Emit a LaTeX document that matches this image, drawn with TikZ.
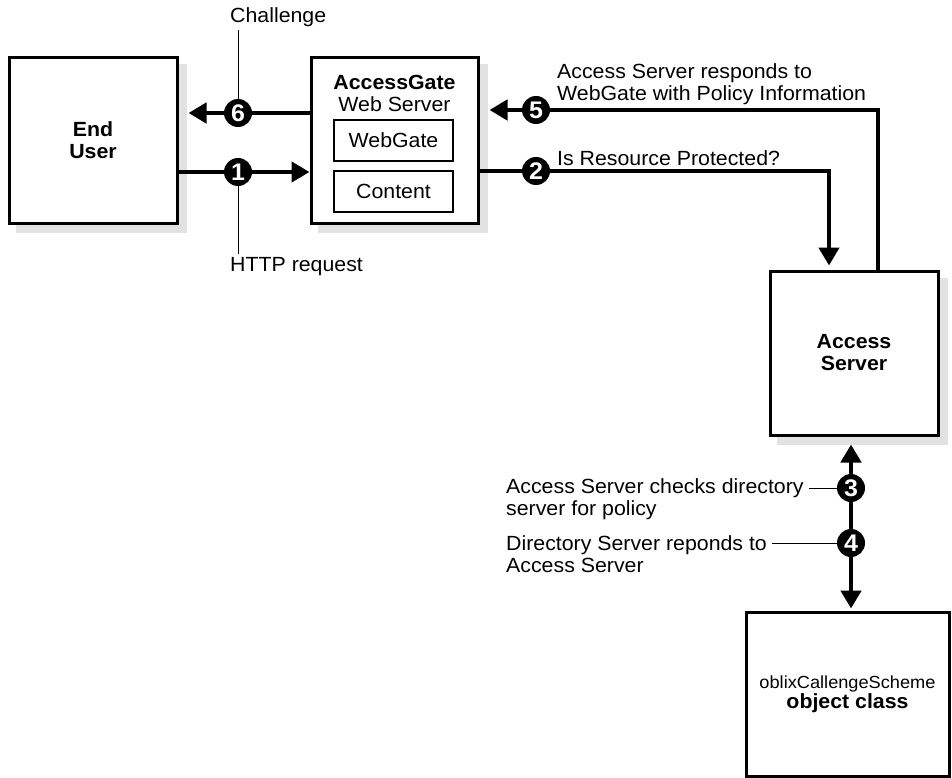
\documentclass[tikz,border=0pt]{standalone}
\usepackage{fontspec}
\setmainfont{Liberation Sans}[FakeStretch=1.04]
\usetikzlibrary{arrows.meta,calc,backgrounds}
\definecolor{shadowc}{RGB}{226,226,226}
\begin{document}
\begin{tikzpicture}[x=1pt,y=-1pt,
  bigtri/.tip={Triangle[length=18pt,width=20pt]},
  txt/.style={font=\fontsize{20.5}{22}\selectfont, inner sep=0pt, align=left},
  box/.style={draw, line width=3pt, fill=white, inner sep=0pt, align=center,
              font=\fontsize{20.5}{22}\selectfont\bfseries},
  inbox/.style={draw, line width=2.5pt, fill=white, minimum width=119pt, minimum height=41pt,
              inner sep=0pt, font=\fontsize{20.5}{22}\selectfont},
  num/.style={circle, fill=black, text=white, inner sep=0pt, minimum size=28pt,
              font=\fontsize{24}{24}\selectfont\bfseries},
  flow/.style={line width=4.5pt, -bigtri},
  leader/.style={line width=1pt},
  shade/.style={fill=shadowc},
]
\path[use as bounding box] (0,0) rectangle (952,778);

% boxes
\node[box, minimum width=168pt, minimum height=165pt] (eu) at (93,140.5) {End\\User};
\node[box, minimum width=167pt, minimum height=165pt] (ag) at (394.5,140.5) {};
\node[txt, align=center] (agt) at (394.5,93) {\textbf{AccessGate}\\Web Server};
\node[inbox] (wg) at (393.5,140.5) {WebGate};
\node[inbox] (ct) at (393.5,191.5) {Content};
\node[box, minimum width=168pt, minimum height=164pt] (as) at (854,353) {Access\\Server};
\node[box, minimum width=203pt, minimum height=164pt, font=\fontsize{17.5}{20}\selectfont] (oc) at (847.5,694)
  {oblixCallengeScheme\\{\fontsize{20.5}{20}\selectfont\bfseries object class}};

% numbered circles
\node[num] (n6) at (238,113) {6};
\node[num] (n1) at (238,172) {1};
\node[num] (n5) at (536,110) {5};
\node[num] (n2) at (536,171) {2};
\node[num] (n3) at (851,488) {3};
\node[num] (n4) at (851,543) {4};

% labels
\node[txt, anchor=west] (ch) at (230,17) {Challenge};
\node[txt, anchor=west] (hr) at (230,267) {HTTP request};
\node[txt, anchor=west] (l2) at (557,158) {Is Resource Protected?};
\node[txt, anchor=west] (l5) at (557,84) {Access Server responds to\\WebGate with Policy Information};
\node[txt, anchor=west] (l3) at (506,499) {Access Server checks directory\\server for policy};
\node[txt, anchor=west] (l4) at (506,554) {Directory Server reponds to\\Access Server};

\begin{scope}[on background layer]
  \foreach \b in {eu,ag,as}
    \fill[shade] ($(\b.south west)+(8,8)$) rectangle ($(\b.north east)+(8,8)$);
  \draw[flow] (eu.east |- n1) -- (ag.west |- n1);
  \draw[flow, shorten >=10pt] (ag.west |- n6) -- (eu.east |- n6);
  \draw[flow, shorten >=4pt] (ag.east |- n2) -| ([xshift=-25pt]as.north);
  \draw[flow, shorten >=10pt] ([xshift=24pt]as.north) |- (ag.east |- n5);
  \draw[line width=4.5pt, bigtri-bigtri, shorten <=8pt, shorten >=2pt] (as.south -| n3) -- (oc.north -| n3);
  \draw[leader, shorten >=3pt] (n6) -- (n6 |- ch.south);
  \draw[leader, shorten >=4pt] (n1) -- (n1 |- hr.north);
  \draw[leader] (n3) -- ($(n3 -| l3.east)+(5,0)$);
  \draw[leader] (n4) -- ($(n4 -| l4.east)+(5,0)$);
\end{scope}
\end{tikzpicture}
\end{document}
